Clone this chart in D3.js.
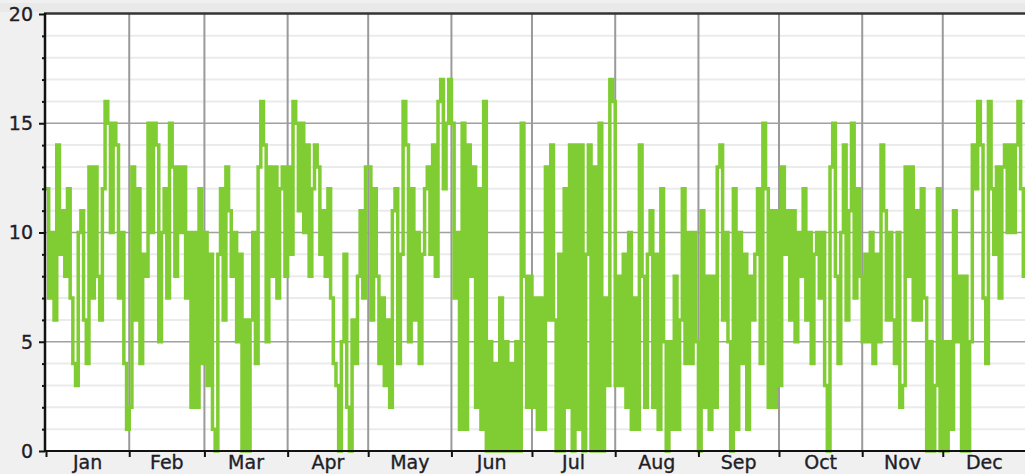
<!DOCTYPE html>
<html>
<head>
<meta charset="utf-8">
<script src="https://cdn.jsdelivr.net/npm/d3@7"></script>
<style>
  html, body { margin: 0; padding: 0; background: #f0f0f0; }
  svg { display: block; }
  .lbl { font-family: "DejaVu Sans", Verdana, sans-serif; font-size: 19px; fill: #1e1e28; stroke: #1e1e28; stroke-width: 0.35px; }
</style>
</head>
<body>
<div id="chart"></div>
<script>
// Daily values, one array per month.
var jan = [12, 7, 10, 6, 14, 9, 11, 8, 12, 7, 4, 3, 10, 11, 6, 4, 13, 7, 13, 8, 6, 12, 16, 15, 10, 15, 14, 7, 10, 4, 1];
var feb = [2, 13, 6, 12, 4, 9, 8, 15, 10, 15, 14, 5, 10, 12, 7, 15, 13, 8, 13, 10, 13, 7, 10, 2, 10, 2, 12, 4];
var mar = [10, 3, 9, 1, 0, 9, 12, 6, 13, 11, 8, 10, 5, 9, 0, 6, 0, 6, 10, 4, 13, 16, 14, 5, 13, 8, 13, 7, 12, 13, 8];
var apr = [13, 9, 16, 15, 11, 15, 10, 14, 8, 12, 14, 13, 9, 11, 8, 12, 7, 4, 3, 0, 5, 9, 2, 0, 6, 4, 8, 11, 7, 13];
var may = [13, 6, 12, 8, 4, 7, 3, 6, 2, 11, 12, 4, 9, 16, 14, 5, 12, 6, 10, 4, 9, 12, 13, 9, 14, 8, 16, 17, 12, 15, 17];
var jun = [15, 7, 10, 1, 15, 1, 14, 8, 13, 2, 12, 1, 16, 0, 5, 0, 4, 0, 7, 0, 5, 0, 4, 0, 5, 0, 15, 8, 2, 8];
var jul = [2, 7, 1, 7, 1, 13, 6, 14, 6, 0, 9, 0, 12, 2, 14, 0, 14, 1, 14, 0, 9, 14, 0, 13, 0, 15, 0, 7, 3, 17, 16];
var aug = [3, 8, 3, 9, 2, 10, 1, 7, 1, 14, 8, 2, 9, 11, 2, 9, 1, 12, 5, 0, 5, 1, 8, 1, 6, 12, 4, 10, 4, 10, 5];
var sep = [0, 11, 2, 8, 1, 8, 2, 13, 14, 6, 10, 5, 0, 12, 1, 10, 4, 9, 1, 8, 6, 9, 12, 4, 15, 12, 2, 11, 2, 11];
var oct = [3, 13, 9, 11, 6, 11, 5, 10, 8, 12, 6, 10, 4, 9, 10, 7, 10, 3, 0, 13, 15, 8, 4, 10, 14, 6, 11, 15, 7, 12, 8];
var nov = [5, 9, 5, 10, 4, 9, 5, 14, 11, 6, 10, 6, 4, 10, 2, 3, 13, 8, 13, 6, 11, 6, 12, 7, 0, 5, 0, 3, 12, 0];
var dec = [5, 0, 5, 1, 11, 5, 8, 0, 8, 0, 5, 14, 12, 16, 14, 7, 4, 16, 12, 9, 13, 7, 13, 14, 10, 14, 10, 14, 16, 12, 8];

var monthNames = ['Jan', 'Feb', 'Mar', 'Apr', 'May', 'Jun', 'Jul', 'Aug', 'Sep', 'Oct', 'Nov', 'Dec'];
var yTicks = [0, 5, 10, 15, 20];

var values = [].concat(jan, feb, mar, apr, may, jun, jul, aug, sep, oct, nov, dec);
var start = new Date(Date.UTC(2023, 0, 1)), end = new Date(Date.UTC(2024, 0, 1));
var data = values.map(function(v, i) { return {date: d3.utcDay.offset(start, i), value: v}; });
data.push({date: end, value: values[values.length - 1]}); // close the last step

var fullWidth = 1025, fullHeight = 474;
var plot = {left: 46, right: 1026, top: 14, bottom: 451};

var svg = d3.select('#chart').append('svg')
    .attr('width', fullWidth)
    .attr('height', fullHeight);

var x = d3.scaleUtc().domain([start, end]).range([plot.left, plot.right]);
var y = d3.scaleLinear().domain([0, 20]).range([plot.bottom, plot.top]);

// Background bands.
svg.append('rect').attr('x', 0).attr('y', 0).attr('width', fullWidth).attr('height', fullHeight).attr('fill', '#f0f0f0');
svg.append('rect').attr('x', 0).attr('y', 3).attr('width', fullWidth).attr('height', 9).attr('fill', '#e9e9e9');
svg.append('rect').attr('x', plot.left).attr('y', plot.top)
    .attr('width', plot.right - plot.left).attr('height', plot.bottom - plot.top).attr('fill', '#fff');

// Minor horizontal grid.
svg.append('g').selectAll('line')
    .data(d3.range(1, 20).filter(function(d) { return d % 5 != 0; }))
  .enter().append('line')
    .attr('x1', plot.left).attr('x2', plot.right)
    .attr('y1', function(d) { return y(d); }).attr('y2', function(d) { return y(d); })
    .attr('stroke', '#ebebeb').attr('stroke-width', 2);

// Major horizontal grid.
svg.append('g').selectAll('line')
    .data([5, 10, 15])
  .enter().append('line')
    .attr('x1', plot.left).attr('x2', plot.right)
    .attr('y1', function(d) { return y(d); }).attr('y2', function(d) { return y(d); })
    .attr('stroke', '#a0a0a0').attr('stroke-width', 1.6);

// Month grid lines.
var months = d3.utcMonth.range(start, end);
svg.append('g').selectAll('line')
    .data(months.slice(1))
  .enter().append('line')
    .attr('x1', function(d) { return x(d); }).attr('x2', function(d) { return x(d); })
    .attr('y1', plot.top).attr('y2', plot.bottom)
    .attr('stroke', '#9a9a9a').attr('stroke-width', 2);

// The series.
var line = d3.line()
    .curve(d3.curveStepAfter)
    .x(function(d) { return x(d.date); })
    .y(function(d) { return y(d.value); });

svg.append('path')
    .datum(data)
    .attr('d', line)
    .attr('fill', 'none')
    .attr('stroke', '#80cc33')
    .attr('stroke-width', 3.5);

// Top border.
svg.append('line')
    .attr('x1', plot.left - 2).attr('x2', fullWidth)
    .attr('y1', plot.top - 0.5).attr('y2', plot.top - 0.5)
    .attr('stroke', '#333').attr('stroke-width', 2.5);

// Y axis.
var yAxis = d3.axisLeft(y).tickValues(d3.range(0, 21)).tickSize(3).tickFormat('');
var yG = svg.append('g').attr('transform', 'translate(' + (plot.left - 1) + ',0)').call(yAxis);
yG.selectAll('.tick line').attr('stroke', '#111').attr('stroke-width', 2)
    .attr('x2', function(d) { return d % 5 == 0 ? -6 : -3; });
yG.select('.domain').attr('stroke', '#111').attr('stroke-width', 2.5)
    .attr('d', 'M0,' + (plot.top - 1) + 'V' + (plot.bottom + 1));

svg.append('g').selectAll('text')
    .data(yTicks)
  .enter().append('text')
    .attr('class', 'lbl')
    .attr('x', 33)
    .attr('y', function(d) { return y(d); })
    .attr('dy', '0.36em')
    .attr('text-anchor', 'end')
    .text(function(d) { return d; });

// X axis.
var xAxis = d3.axisBottom(x).tickValues(months).tickSize(6).tickFormat('');
var xG = svg.append('g').attr('transform', 'translate(0,' + plot.bottom + ')').call(xAxis);
xG.selectAll('.tick line').attr('stroke', '#111').attr('stroke-width', 2);
xG.select('.domain').attr('stroke', '#111').attr('stroke-width', 2)
    .attr('d', 'M' + (plot.left - 2) + ',0H' + fullWidth);

svg.append('g').selectAll('text')
    .data(months)
  .enter().append('text')
    .attr('class', 'lbl')
    .attr('x', function(d) { return (x(d) + x(d3.utcMonth.offset(d, 1))) / 2; })
    .attr('y', 469)
    .attr('text-anchor', 'middle')
    .text(function(d, i) { return monthNames[i]; });
</script>
</body>
</html>
